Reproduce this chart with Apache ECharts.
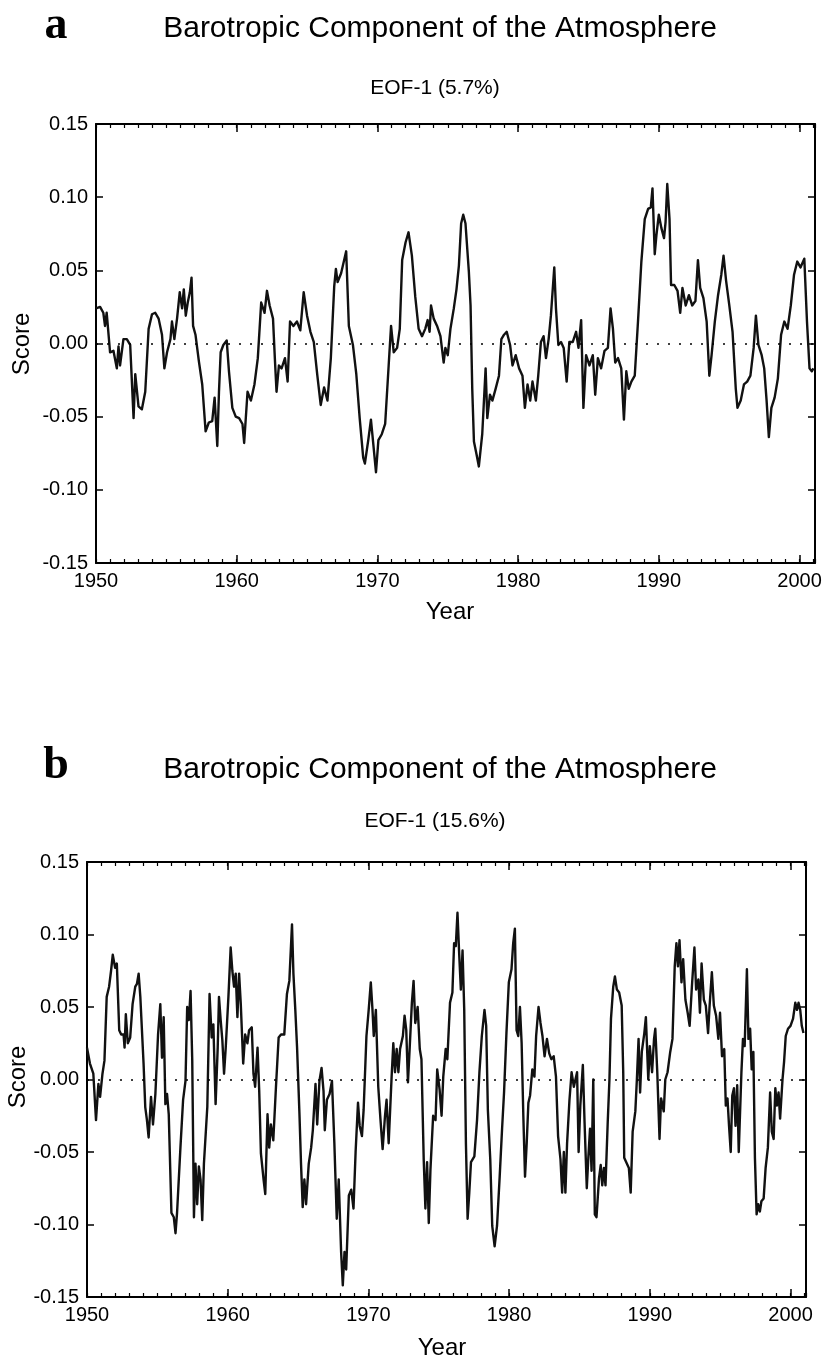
<!DOCTYPE html>
<html><head><meta charset="utf-8">
<script src="https://cdn.jsdelivr.net/npm/echarts@6/dist/echarts.min.js"></script>
<style>html,body{margin:0;padding:0;background:#fff}#c{width:825px;height:1362px}</style>
</head><body><div id="c"></div>
<script>
// ---------- Panel a : EOF-1 (5.7%) ----------
const yearsA = [1950.00,1950.29,1950.52,1950.64,1950.76,1951.00,1951.24,1951.48,1951.60,1951.71,1951.95,1952.19,1952.43,1952.67,1952.79,1953.02,1953.26,1953.50,1953.74,1953.98,1954.21,1954.45,1954.69,1954.86,1955.05,1955.29,1955.40,1955.57,1955.76,1955.95,1956.12,1956.24,1956.38,1956.52,1956.67,1956.79,1956.90,1957.07,1957.31,1957.55,1957.79,1958.02,1958.26,1958.43,1958.62,1958.74,1958.86,1959.05,1959.29,1959.45,1959.69,1959.93,1960.17,1960.41,1960.53,1960.77,1961.01,1961.26,1961.50,1961.74,1961.98,1962.15,1962.34,1962.58,1962.71,1962.83,1963.00,1963.19,1963.43,1963.62,1963.79,1964.03,1964.28,1964.52,1964.76,1965.00,1965.24,1965.48,1965.72,1965.97,1966.21,1966.45,1966.69,1966.93,1967.05,1967.17,1967.42,1967.78,1967.97,1968.26,1968.50,1968.74,1968.99,1969.11,1969.35,1969.54,1969.71,1969.90,1970.07,1970.31,1970.55,1970.80,1970.97,1971.16,1971.40,1971.59,1971.76,1972.00,1972.21,
1972.45,1972.69,1972.93,1973.17,1973.40,1973.57,1973.71,1973.81,1974.00,1974.24,1974.48,1974.71,1974.83,1975.00,1975.19,1975.43,1975.62,1975.79,1975.95,1976.10,1976.26,1976.50,1976.62,1976.74,1976.86,1977.05,1977.21,1977.45,1977.69,1977.81,1978.00,1978.17,1978.40,1978.64,1978.81,1979.00,1979.19,1979.43,1979.60,1979.83,1980.07,1980.31,1980.48,1980.67,1980.86,1981.02,1981.26,1981.43,1981.62,1981.81,1981.98,1982.17,1982.33,1982.57,1982.69,1982.86,1983.05,1983.24,1983.45,1983.64,1983.88,1984.12,1984.29,1984.48,1984.64,1984.83,1985.07,1985.31,1985.48,1985.67,1985.90,1986.14,1986.38,1986.57,1986.74,1986.90,1987.10,1987.33,1987.52,1987.69,1987.86,1988.05,1988.29,1988.52,1988.76,1989.00,1989.24,1989.43,1989.55,1989.71,1989.83,1990.00,1990.18,1990.37,1990.48,1990.60,1990.76,1990.87,1991.10,1991.33,1991.52,1991.68,1991.91,1992.14,1992.37,1992.60,1992.78,1992.94,1993.17,1993.40,1993.59,1993.75,1993.98,1994.21,1994.44,1994.60,1994.78,1995.01,1995.24,1995.47,1995.59,1995.82,1996.05,1996.28,1996.51,1996.74,1996.90,1997.08,1997.31,1997.49,1997.66,1997.82,1998.00,1998.23,1998.46,1998.69,1998.92,1999.15,1999.38,1999.61,1999.84,2000.07,2000.34,2000.53,2000.71,2000.87,2000.99];
const scoreA = [0.024,0.025,0.021,0.012,0.021,-0.006,-0.005,-0.017,-0.002,-0.015,0.003,0.003,-0.001,-0.051,-0.021,-0.043,-0.045,-0.033,0.010,0.020,0.021,0.017,0.006,-0.017,-0.006,0.003,0.015,0.003,0.017,0.035,0.024,0.037,0.019,0.028,0.035,0.045,0.012,0.006,-0.012,-0.028,-0.060,-0.054,-0.053,-0.037,-0.070,-0.033,-0.006,-0.001,0.002,-0.019,-0.044,-0.050,-0.051,-0.055,-0.068,-0.033,-0.039,-0.028,-0.010,0.028,0.021,0.036,0.026,0.017,-0.010,-0.033,-0.015,-0.017,-0.010,-0.026,0.015,0.012,0.015,0.009,0.035,0.019,0.008,0.001,-0.021,-0.042,-0.030,-0.039,-0.010,0.039,0.051,0.042,0.048,0.063,0.012,-0.001,-0.021,-0.051,-0.078,-0.082,-0.066,-0.052,-0.069,-0.088,-0.066,-0.062,-0.055,-0.015,0.012,-0.006,-0.003,0.010,0.057,0.069,0.076,
0.060,0.032,0.010,0.005,0.010,0.016,0.008,0.026,0.017,0.012,0.005,-0.013,-0.003,-0.008,0.010,0.024,0.037,0.053,0.082,0.088,0.082,0.049,0.026,-0.031,-0.067,-0.076,-0.084,-0.062,-0.017,-0.051,-0.035,-0.039,-0.031,-0.022,0.003,0.006,0.008,-0.001,-0.015,-0.008,-0.017,-0.022,-0.044,-0.028,-0.039,-0.026,-0.039,-0.022,0.001,0.005,-0.010,0.003,0.019,0.052,0.024,-0.001,0.001,-0.003,-0.026,0.001,0.001,0.008,-0.003,0.016,-0.044,-0.008,-0.015,-0.008,-0.035,-0.010,-0.017,-0.005,-0.003,0.024,0.010,-0.013,-0.010,-0.017,-0.052,-0.019,-0.031,-0.026,-0.022,0.015,0.056,0.085,0.092,0.093,0.106,0.061,0.074,0.088,0.079,0.072,0.083,0.109,0.085,0.040,0.040,0.036,0.021,0.038,0.026,0.033,0.026,0.029,0.057,0.038,0.031,0.015,-0.022,-0.008,0.015,0.033,0.047,0.060,0.043,0.026,0.008,-0.031,-0.044,-0.039,-0.028,-0.026,-0.022,-0.003,0.019,-0.001,-0.008,-0.017,-0.039,-0.064,-0.044,-0.037,-0.024,0.006,0.015,0.010,0.026,0.047,0.056,0.052,0.058,0.015,-0.017,-0.019,-0.017];

// ---------- Panel b : EOF-1 (15.6%) ----------
const yearsB = [1950.00,1950.21,1950.45,1950.64,1950.81,1950.93,1951.10,1951.24,1951.40,1951.57,1951.71,1951.83,
1952.00,1952.12,1952.29,1952.43,1952.60,1952.67,1952.76,1952.90,
1953.07,1953.24,1953.43,1953.55,1953.67,1953.79,
1954.02,1954.14,1954.26,1954.38,1954.55,1954.69,1954.86,
1955.05,1955.21,1955.33,1955.45,1955.57,1955.69,1955.81,
1956.00,1956.17,1956.29,1956.40,1956.64,1956.83,
1957.00,1957.12,1957.24,1957.36,1957.48,1957.60,1957.71,1957.83,1957.95,
1958.07,1958.19,1958.31,1958.55,1958.71,1958.86,1958.98,
1959.14,1959.29,1959.38,1959.50,1959.62,1959.74,1959.86,
1960.05,1960.21,1960.33,1960.45,1960.57,1960.69,1960.81,1960.93,
1961.10,1961.24,1961.40,1961.52,1961.71,1961.83,1961.95,
1962.12,1962.24,1962.36,1962.55,1962.67,1962.83,1962.95,
1963.07,1963.24,1963.43,1963.62,1963.79,
1964.02,1964.21,1964.38,1964.57,1964.67,1964.81,1964.93,
1965.10,1965.21,1965.33,1965.45,1965.57,1965.76,1965.93,
1966.05,1966.24,1966.36,1966.52,1966.67,1966.81,1966.90,
1967.05,1967.24,
1967.41,1967.58,1967.75,1967.89,1968.06,1968.18,1968.30,1968.42,1968.61,1968.78,1968.94,1969.09,1969.26,1969.38,1969.54,1969.66,1969.86,1970.02,1970.17,1970.29,1970.38,1970.53,1970.70,1970.86,1971.01,1971.18,1971.29,1971.44,1971.65,1971.77,1971.89,1972.01,1972.13,1972.25,1972.45,1972.57,1972.69,1972.81,1972.93,1973.09,1973.21,1973.33,1973.50,1973.65,1973.77,1973.93,1974.05,1974.17,1974.29,1974.41,1974.60,1974.77,1974.89,1975.06,1975.20,1975.32,1975.49,1975.61,1975.80,1975.97,1976.09,1976.21,1976.33,1976.45,1976.57,1976.69,1976.81,1976.93,1977.05,1977.17,1977.29,1977.53,1977.72,1977.89,1978.06,1978.25,1978.37,1978.49,1978.66,1978.80,1978.97,1979.14,1979.33,1979.50,1979.64,1979.81,1979.98,1980.17,1980.29,1980.41,1980.53,1980.65,1980.77,1980.89,1981.01,1981.13,1981.25,1981.37,1981.49,1981.65,1981.80,1981.92,1982.09,1982.23,1982.37,1982.52,1982.69,1982.85,1983.00,1983.17,1983.33,1983.48,1983.65,1983.77,1983.89,1984.00,1984.12,1984.29,1984.44,1984.60,
1984.83,1984.94,1985.06,1985.24,1985.36,1985.52,1985.63,1985.75,1985.86,1985.98,1986.09,1986.21,1986.39,1986.51,1986.62,1986.74,1986.85,1987.01,1987.13,1987.24,1987.40,1987.52,1987.66,1987.82,1988.00,1988.11,1988.18,1988.32,1988.51,1988.64,1988.78,1988.97,1989.08,1989.20,1989.31,1989.43,1989.61,1989.72,1989.89,1990.00,1990.16,1990.30,1990.39,1990.53,1990.69,1990.80,1990.99,1991.10,1991.26,1991.45,1991.61,1991.77,1991.89,1992.00,1992.11,1992.25,1992.37,1992.53,1992.69,1992.83,1992.99,1993.17,1993.29,1993.45,1993.56,1993.68,1993.84,1993.98,1994.14,1994.25,1994.41,1994.55,1994.71,1994.87,1994.99,1995.13,1995.29,1995.40,1995.52,1995.63,1995.75,1995.86,1995.98,1996.09,1996.21,1996.32,1996.51,1996.62,1996.74,1996.90,1997.01,1997.13,1997.24,1997.36,1997.47,1997.59,1997.70,1997.82,1997.93,1998.09,1998.23,1998.39,1998.55,1998.67,1998.80,1998.92,1999.03,1999.15,1999.26,1999.43,1999.54,1999.66,1999.82,2000.00,2000.18,2000.34,2000.46,2000.57,2000.69,2000.80,2000.92];
const scoreB = [0.022,0.011,0.004,-0.028,-0.003,-0.012,0.004,0.013,0.057,0.064,0.075,0.086,
0.077,0.080,0.034,0.031,0.031,0.022,0.045,0.025,
0.029,0.052,0.064,0.066,0.073,0.057,
0.011,-0.019,-0.028,-0.040,-0.012,-0.031,-0.010,
0.031,0.052,0.015,0.043,-0.017,-0.010,-0.024,
-0.092,-0.095,-0.106,-0.092,-0.047,-0.014,
-0.001,0.050,0.041,0.061,0.013,-0.095,-0.058,-0.086,-0.060,
-0.069,-0.097,-0.058,-0.019,0.059,0.029,0.038,
-0.017,0.022,0.057,0.041,0.027,0.004,0.022,
0.057,0.091,0.075,0.064,0.073,0.043,0.073,0.052,
0.011,0.031,0.025,0.034,0.036,0.004,-0.005,
0.022,-0.008,-0.051,-0.069,-0.079,-0.024,-0.047,
-0.031,-0.042,-0.005,0.029,0.031,
0.031,0.059,0.068,0.107,0.073,0.047,0.022,
-0.024,-0.058,-0.088,-0.069,-0.086,-0.058,-0.047,
-0.035,-0.003,-0.031,-0.001,0.008,-0.008,-0.035,
-0.014,-0.010,
-0.001,-0.044,-0.096,-0.069,-0.119,-0.142,-0.119,-0.131,-0.080,-0.076,-0.089,-0.050,-0.016,-0.032,-0.039,-0.021,0.030,0.048,0.067,0.048,0.030,0.048,-0.005,-0.028,-0.048,-0.025,-0.014,-0.044,0.002,0.025,0.005,0.021,0.005,0.021,0.030,0.044,0.034,-0.002,0.021,0.053,0.068,0.039,0.050,0.021,0.014,-0.055,-0.089,-0.057,-0.099,-0.062,-0.025,-0.028,0.007,-0.007,-0.025,0.002,0.021,0.014,0.053,0.060,0.094,0.092,0.115,0.087,0.062,0.089,0.048,-0.044,-0.096,-0.078,-0.057,-0.053,-0.028,0.005,0.030,0.048,0.037,-0.021,-0.055,-0.101,-0.115,-0.101,-0.067,-0.034,-0.009,0.032,0.067,0.076,0.094,0.104,0.034,0.030,0.050,0.025,-0.025,-0.067,-0.044,-0.016,-0.011,0.007,0.002,0.030,0.050,0.039,0.030,0.016,0.028,0.018,0.014,0.016,0.002,-0.039,-0.055,-0.078,-0.050,-0.078,-0.044,-0.014,0.005,-0.005,
0.005,-0.050,-0.018,0.010,-0.029,-0.075,-0.054,-0.034,-0.063,0.000,-0.093,-0.095,-0.068,-0.059,-0.073,-0.061,-0.073,-0.029,0.000,0.042,0.064,0.071,0.062,0.060,0.051,0.005,-0.054,-0.054,-0.061,-0.078,-0.036,-0.022,0.000,0.028,-0.009,0.019,0.032,0.043,0.000,0.023,0.005,0.028,0.035,0.005,-0.041,-0.013,-0.022,0.000,0.005,0.019,0.028,0.078,0.094,0.078,0.096,0.067,0.083,0.055,0.046,0.037,0.064,0.091,0.062,0.069,0.046,0.080,0.055,0.051,0.032,0.051,0.074,0.051,0.044,0.028,0.046,0.016,0.021,-0.018,-0.013,-0.032,-0.050,-0.011,-0.006,-0.032,-0.004,-0.050,0.005,0.028,0.023,0.076,0.028,0.035,0.007,0.019,-0.054,-0.093,-0.086,-0.091,-0.084,-0.082,-0.061,-0.047,-0.009,-0.036,-0.041,-0.006,-0.018,-0.009,-0.027,0.000,0.012,0.030,0.035,0.037,0.042,0.053,0.048,0.053,0.048,0.037,0.032];

// ---------- axis / text ----------
const xRange = [1950, 2001.1];
const yRange = [-0.15, 0.15];
const mainTitle = 'Barotropic Component of the Atmosphere';
const subTitleA = 'EOF-1 (5.7%)';
const subTitleB = 'EOF-1 (15.6%)';
const panelLetters = ['a', 'b'];
const xName = 'Year';
const yName = 'Score';

const FONT = '"Liberation Sans", Arial, Helvetica, sans-serif';
const chart = echarts.init(document.getElementById('c'), null, {renderer: 'canvas'});

const pairs = (xs, ys) => xs.map((x, i) => [x, ys[i]]);

function majorX(gridIndex, position, labels) {
  return {
    type: 'value', gridIndex, position, min: xRange[0], max: xRange[1], interval: 10,
    axisLine: {show: true, onZero: false, lineStyle: {color: '#000', width: 2}},
    axisTick: {show: true, inside: true, length: 8, lineStyle: {color: '#000', width: 1.5}},
    splitLine: {show: false},
    axisLabel: {show: labels, margin: 8, color: '#000', fontSize: 20, fontFamily: FONT,
      formatter: v => Math.abs(v - Math.round(v / 10) * 10) < 1e-6 ? String(Math.round(v)) : ''}
  };
}
function minorX(gridIndex, position) {
  return {
    type: 'value', gridIndex, position, min: xRange[0], max: xRange[1], interval: 1,
    axisLine: {show: false, onZero: false},
    axisTick: {show: true, inside: true, length: 4, lineStyle: {color: '#000', width: 1.2}},
    splitLine: {show: false}, axisLabel: {show: false}
  };
}
function yAx(gridIndex, position, labels) {
  return {
    type: 'value', gridIndex, position, min: yRange[0], max: yRange[1], interval: 0.05,
    axisLine: {show: true, onZero: false, lineStyle: {color: '#000', width: 2}},
    axisTick: {show: true, inside: true, length: 7, lineStyle: {color: '#000', width: 1.5}},
    splitLine: {show: false},
    axisLabel: {show: labels, margin: 8, color: '#000', fontSize: 20, fontFamily: FONT,
      formatter: v => (Math.abs(v) < 1e-9 ? 0 : v).toFixed(2)}
  };
}
const hiddenY = gridIndex => ({type: 'value', gridIndex, show: false, min: -1, max: 1});

function lineSeries(xi, yi, data) {
  return {
    type: 'line', xAxisIndex: xi, yAxisIndex: yi, data, showSymbol: false, symbol: 'none',
    lineStyle: {color: '#111', width: 2.4, join: 'round'}, itemStyle: {color: '#111'}, z: 3,
    markLine: {silent: true, symbol: 'none', label: {show: false},
      lineStyle: {type: [2, 9], color: '#000', width: 1.6}, data: [{yAxis: 0}]}
  };
}
function txt(text, x, y, font, rot) {
  return {type: 'text', x, y, rotation: rot || 0,
    style: {text, font, fill: '#000', textAlign: 'center', textVerticalAlign: 'middle'}};
}

const gridA = {left: 96, top: 124, width: 719, height: 439};
const gridB = {left: 87, top: 862, width: 719, height: 435};

chart.setOption({
  animation: false,
  backgroundColor: '#fff',
  grid: [gridA, gridA, gridB, gridB],
  xAxis: [majorX(0, 'bottom', true), majorX(0, 'top', false), minorX(1, 'bottom'), minorX(1, 'top'),
          majorX(2, 'bottom', true), majorX(2, 'top', false), minorX(3, 'bottom'), minorX(3, 'top')],
  yAxis: [yAx(0, 'left', true), yAx(0, 'right', false), hiddenY(1),
          yAx(2, 'left', true), yAx(2, 'right', false), hiddenY(3)],
  series: [lineSeries(0, 0, pairs(yearsA, scoreA)), lineSeries(4, 3, pairs(yearsB, scoreB))],
  graphic: [
    txt(panelLetters[0], 56, 26, 'bold 46px "Liberation Serif", "DejaVu Serif", serif'),
    txt(mainTitle, 440, 29, '30px ' + FONT),
    txt(subTitleA, 435, 88, '21px ' + FONT),
    txt(yName, 22, 344, '24px ' + FONT, Math.PI / 2),
    txt(xName, 450, 612, '24px ' + FONT),
    txt(panelLetters[1], 56, 766, 'bold 46px "Liberation Serif", "DejaVu Serif", serif'),
    txt(mainTitle, 440, 770, '30px ' + FONT),
    txt(subTitleB, 435, 821, '21px ' + FONT),
    txt(yName, 18, 1077, '24px ' + FONT, Math.PI / 2),
    txt(xName, 442, 1348, '24px ' + FONT)
  ]
});
</script>
</body></html>
